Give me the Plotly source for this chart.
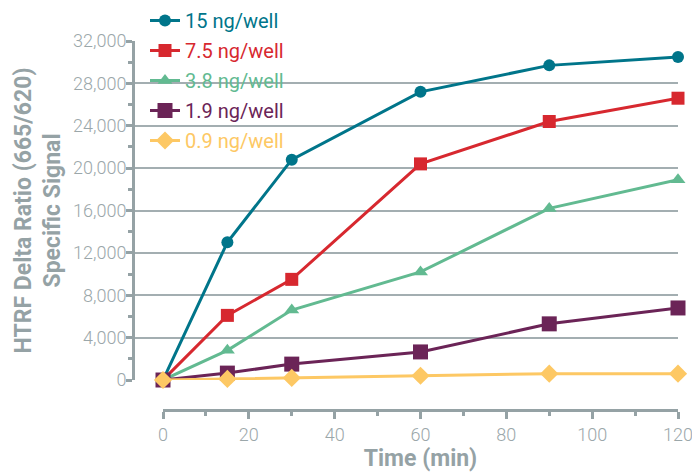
import plotly.graph_objects as go

time_min = [0, 15, 30, 60, 90, 120]
series_names = ["15 ng/well", "7.5 ng/well", "3.8 ng/well", "1.9 ng/well", "0.9 ng/well"]
s15 = [0, 13000, 20800, 27200, 29700, 30500]
s7_5 = [0, 6100, 9500, 20400, 24400, 26600]
s3_8 = [0, 2800, 6600, 10200, 16200, 18900]
s1_9 = [0, 650, 1500, 2650, 5300, 6800]
s0_9 = [0, 100, 200, 400, 600, 600]
series_values = [s15, s7_5, s3_8, s1_9, s0_9]
colors = ["#00758a", "#d7282f", "#62ba91", "#6b2457", "#fdc864"]
symbols = ["circle", "square", "triangle-up", "square", "diamond"]
sizes = [12, 13, 13, 15, 14]

y_ticks = [0, 4000, 8000, 12000, 16000, 20000, 24000, 28000, 32000]
x_ticks = [0, 20, 40, 60, 80, 100, 120]

GRAY = "#95a2a5"
TXT = "#9ba7aa"
FONT = "Roboto, sans-serif"

W, H = 692, 472
L, R, T, B = 135, 14, 41, 62
pw = W - L - R
ph = H - T - B
off = 28
x0 = -off * 120 / (pw - off)

tickfont = dict(family=FONT, size=18, color=TXT, weight=300)
titlefont = dict(family=FONT, size=23, color=GRAY, weight="bold")

fig = go.Figure()
# dummy trace on the full-width subplot (carries the y grid from the y-axis line)
fig.add_trace(go.Scatter(x=[x0, 120], y=[None, None], xaxis="x", yaxis="y",
                         showlegend=False, hoverinfo="skip"))
for i, (nm, vals) in enumerate(zip(series_names, series_values)):
    fig.add_trace(go.Scatter(
        x=time_min, y=vals, mode="lines+markers", xaxis="x2", yaxis="y",
        name=f"<span style='color:{colors[i]}'>{nm}</span>",
        line=dict(color=colors[i], width=3),
        marker=dict(symbol=symbols[i], size=sizes[i], color=colors[i]),
        cliponaxis=False, legendgroup=str(i),
    ))

fig.update_layout(
    width=W, height=H,
    margin=dict(l=L, r=R, t=T, b=B, autoexpand=False),
    paper_bgcolor="white", plot_bgcolor="rgba(0,0,0,0)",
    font=dict(family=FONT, color=TXT, size=17),
    xaxis=dict(domain=[0, 1], range=[x0, 120], visible=False, fixedrange=True),
    xaxis2=dict(domain=[off / pw, 1], range=[0, 120], anchor="free", position=0,
                tickvals=x_ticks, ticks="outside", ticklen=7, tickwidth=3, tickcolor=GRAY,
                showline=True, linecolor=GRAY, linewidth=3, showgrid=False, zeroline=False,
                automargin=False, ticklabeloverflow="allow",
                minor=dict(dtick=10, ticks="outside", ticklen=4, tickwidth=3, tickcolor=GRAY, showgrid=False),
                tickfont=tickfont,
                title=dict(text="Time (min)", font=titlefont, standoff=7)),
    yaxis=dict(domain=[30 / ph, 1], range=[0, 32000], tickvals=y_ticks, tickformat=",",
               ticks="outside", ticklen=6, tickwidth=3, tickcolor=GRAY,
               showline=True, linecolor=GRAY, linewidth=3, automargin=False,
               ticklabelstandoff=-4,
               showgrid=True, gridcolor="#a3aeb1", gridwidth=2, zeroline=False,
               minor=dict(dtick=2000, ticks="outside", ticklen=4, tickwidth=3, tickcolor=GRAY, showgrid=False),
               tickfont=tickfont,
               title=dict(text="HTRF Delta Ratio (665/620)<br>Specific Signal",
                          font=titlefont, standoff=6)),
    legend=dict(x=(145 - L) / pw, xanchor="left", y=1 + 40 / ph, yanchor="top",
                bgcolor="rgba(0,0,0,0)", font=dict(family=FONT, size=20), tracegroupgap=1,
                itemwidth=30),
    showlegend=True,
)

fig.write_html("out.html", config={"displayModeBar": False},
               post_script="document.body.style.margin='0';document.documentElement.style.overflow='hidden';")
